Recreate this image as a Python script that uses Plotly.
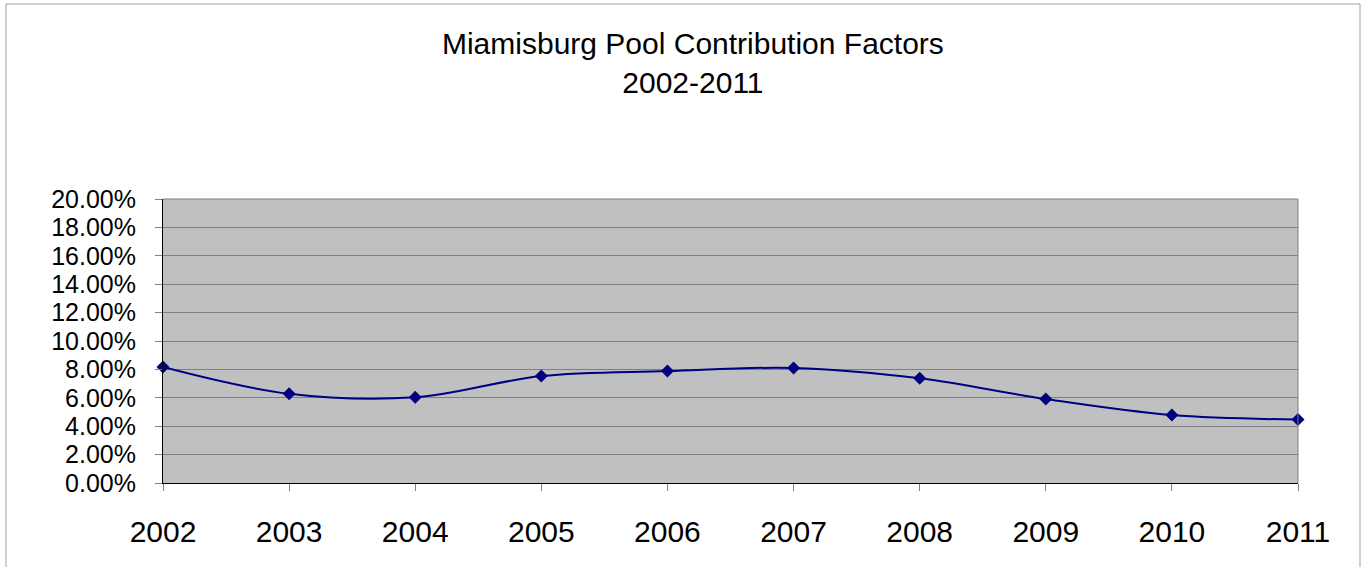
import plotly.graph_objects as go

years = [2002, 2003, 2004, 2005, 2006, 2007, 2008, 2009, 2010, 2011]
factors = [0.0817, 0.0628, 0.0603, 0.0753, 0.0788, 0.0810, 0.0737, 0.0591, 0.0478, 0.0447]
y_ticks = [0, 0.02, 0.04, 0.06, 0.08, 0.10, 0.12, 0.14, 0.16, 0.18, 0.20]
title_lines = ["Miamisburg Pool Contribution Factors", "2002-2011"]

W, H = 1364, 567
L, R, T, B = 163, 1298, 199, 483
FONT = "Liberation Sans, Arial, sans-serif"

fig = go.Figure()
fig.add_trace(go.Scatter(
    x=years, y=factors, mode="lines+markers",
    line=dict(color="#000080", width=2, shape="spline", smoothing=1.0),
    marker=dict(symbol="diamond", size=10, color="#000080"),
    showlegend=False, cliponaxis=False,
))

def px_x(p):
    return (p - L) / (R - L)

def px_y(p):
    return (B - p) / (B - T)

fig.update_layout(
    width=W, height=H,
    margin=dict(l=L, r=W - R, t=T, b=H - B),
    paper_bgcolor="white", plot_bgcolor="#C0C0C0",
    font=dict(family=FONT, color="black"),
    title=dict(text="<br>".join(title_lines), x=0.508, xanchor="center",
               y=0.905, yanchor="top",
               font=dict(size=30, family=FONT)),
    xaxis=dict(range=[years[0], years[-1]], tickvals=years, ticktext=[str(y) for y in years],
               showgrid=False, zeroline=False, showline=True, linecolor="black", linewidth=1,
               ticks="outside", ticklen=7, tickcolor="#808080",
               ticklabelstandoff=15,
               tickfont=dict(size=30)),
    yaxis=dict(range=[0, 0.20], tickvals=y_ticks, tickformat=".2%",
               showgrid=True, gridcolor="#808080", gridwidth=1, zeroline=False,
               showline=True, linecolor="black", linewidth=1,
               ticks="outside", ticklen=7, tickcolor="#808080",
               ticklabelstandoff=14,
               tickfont=dict(size=25)),
    shapes=[
        dict(type="line", xref="paper", yref="paper", x0=0, x1=1, y0=1, y1=1,
             line=dict(color="#808080", width=1)),
        dict(type="line", xref="paper", yref="paper", x0=1, x1=1, y0=0, y1=1,
             line=dict(color="#808080", width=1)),
        dict(type="line", xref="paper", yref="paper", x0=px_x(6), x1=px_x(1360),
             y0=px_y(4), y1=px_y(4), line=dict(color="#A0A0A0", width=1)),
        dict(type="line", xref="paper", yref="paper", x0=px_x(6), x1=px_x(6),
             y0=px_y(4), y1=px_y(570), line=dict(color="#A0A0A0", width=1)),
        dict(type="line", xref="paper", yref="paper", x0=px_x(1360), x1=px_x(1360),
             y0=px_y(4), y1=px_y(570), line=dict(color="#A0A0A0", width=1)),
    ],
)

fig.write_html("out.html", config={"displayModeBar": False},
               post_script="document.body.style.margin='0';document.body.style.overflow='hidden';")
